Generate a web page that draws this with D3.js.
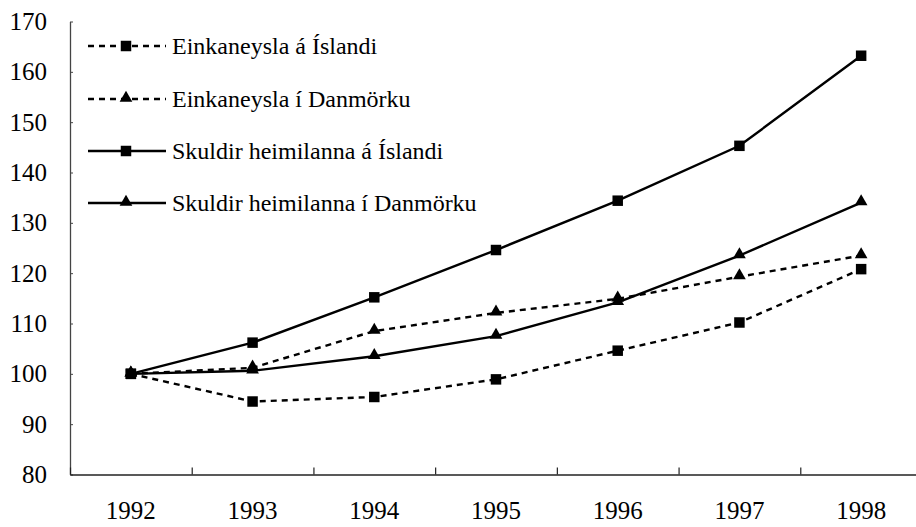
<!DOCTYPE html>
<html><head><meta charset="utf-8">
<script src="https://cdn.jsdelivr.net/npm/d3@7"></script>
<style>body{margin:0;background:#fff}svg{display:block} text{font-family:"Liberation Serif","Times New Roman",Times,"DejaVu Serif",serif}</style>
</head><body>
<svg id="c" width="916" height="527"></svg>
<script>
const years = ["1992","1993","1994","1995","1996","1997","1998"];
const seriesNames = ["Einkaneysla á Íslandi","Einkaneysla í Danmörku","Skuldir heimilanna á Íslandi","Skuldir heimilanna í Danmörku"];
const einkIS = [100, 94.5, 95.4, 98.9, 104.6, 110.2, 120.8];
const einkDK = [100, 101.2, 108.5, 112.1, 114.9, 119.3, 123.5];
const skuldIS = [100, 106.2, 115.2, 124.6, 134.4, 145.3, 163.2];
const skuldDK = [100, 100.6, 103.5, 107.5, 114.2, 123.5, 134.0];
const yTicks = [80,90,100,110,120,130,140,150,160,170];

(function(){
const series = [
  {name: seriesNames[0], values: einkIS, dashed: true, marker: "square"},
  {name: seriesNames[1], values: einkDK, dashed: true, marker: "triangle"},
  {name: seriesNames[2], values: skuldIS, dashed: false, marker: "square"},
  {name: seriesNames[3], values: skuldDK, dashed: false, marker: "triangle"}
];
const drawOrder = [1, 3, 0, 2];

const svg = d3.select("#c");
const mLeft = 70, mBottom = 474.5, mTop = 21.5, mRight = 922;
const x = d3.scaleBand().domain(years).range([mLeft, mRight]).padding(0);
const y = d3.scaleLinear().domain([80,170]).range([mBottom, mTop]);
const font = '"Liberation Serif","Times New Roman",Times,"DejaVu Serif",serif';

// y axis
const ya = svg.append("g").attr("transform",`translate(${mLeft},0)`)
  .call(d3.axisLeft(y).tickValues(yTicks).tickSizeInner(-3).tickSizeOuter(0).tickPadding(23));
ya.attr("font-family", null);
ya.select(".domain").attr("stroke","#444").attr("stroke-width",1.3);
ya.selectAll(".tick line").attr("stroke","#444");
ya.selectAll("text").style("font-family",font).attr("font-size",25).attr("fill","#000");

// x axis (labels)
const xa = svg.append("g").attr("transform",`translate(0,${mBottom})`)
  .call(d3.axisBottom(x).tickSize(0).tickPadding(27));
xa.attr("font-family", null);
xa.select(".domain").remove();
xa.selectAll("text").style("font-family",font).attr("font-size",25).attr("fill","#000");
// x axis line and boundary ticks
const xi = d3.scaleLinear().domain([0, years.length]).range([mLeft, mRight]);
const xb = svg.append("g").attr("transform",`translate(0,${mBottom})`)
  .call(d3.axisBottom(xi).tickValues(d3.range(0, years.length+1)).tickSizeInner(-7).tickSizeOuter(0).tickFormat(""));
xb.select(".domain").attr("stroke","#222").attr("stroke-width",1.5);
xb.selectAll(".tick line").attr("stroke","#222").attr("stroke-width",1.2);

const cx = d => x(d) + x.bandwidth()/2;
const line = d3.line().x((d,i)=>cx(years[i])).y(d=>y(d));
const sq = d3.symbol().type(d3.symbolSquare).size(110);
const tri = d3.symbol().type(d3.symbolTriangle).size(70);

drawOrder.forEach(k => {
  const s = series[k];
  svg.append("path").datum(s.values).attr("d", line)
    .attr("fill","none").attr("stroke","#000").attr("stroke-width",2.4)
    .attr("stroke-dasharray", s.dashed ? "6,5" : null);
  svg.append("g").selectAll("path").data(s.values).join("path")
    .attr("d", s.marker==="square" ? sq : tri)
    .attr("transform",(d,i)=>`translate(${cx(years[i])},${y(d) - (s.marker==="triangle"?1:0)})`)
    .attr("fill","#000");
});

// legend
const legY = [46, 99, 151, 203];
const lg = svg.append("g");
series.forEach((s,i) => {
  const g = lg.append("g").attr("transform",`translate(0,${legY[i]})`);
  g.append("line").attr("x1",88).attr("x2",166).attr("y1",0).attr("y2",0)
    .attr("stroke","#000").attr("stroke-width",2.4).attr("stroke-dasharray", s.dashed ? "6,5" : null);
  g.append("path").attr("d", s.marker==="square"?sq:tri).attr("transform",`translate(126,${s.marker==="triangle"?-1:0})`).attr("fill","#000");
  g.append("text").attr("x",172).attr("y",0).attr("dy","0.35em")
    .style("font-family",font).attr("font-size",24).attr("fill","#000").text(s.name);
});
})();
</script>
</body></html>
